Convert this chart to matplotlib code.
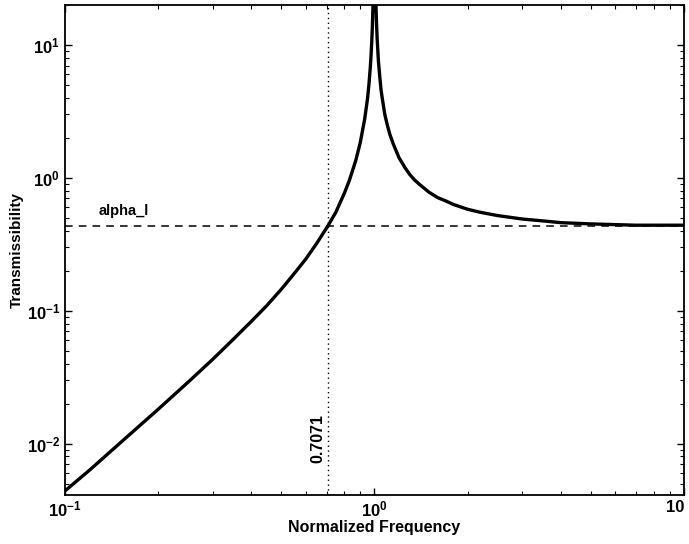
from matplotlib import pyplot as plt
import numpy as np

plt.rcParams['font.family'] = ['Liberation Sans', 'DejaVu Sans']
plt.rcParams['mathtext.default'] = 'regular'

# values
freq = [0.1, 0.12, 0.15, 0.2, 0.25, 0.3, 0.35, 0.4, 0.45, 0.5, 0.55, 0.6, 0.65,
        0.7071, 0.75, 0.8, 0.83, 0.85, 0.87, 0.9, 0.93, 0.95, 0.96, 0.97, 0.975,
        0.98, 0.985, 0.99, 0.995, 1.005, 1.01, 1.015, 1.02, 1.03, 1.04, 1.05,
        1.06, 1.08, 1.1, 1.12, 1.15, 1.2, 1.25, 1.3, 1.35, 1.4, 1.5, 1.6, 1.7,
        1.8, 2.0, 2.2, 2.5, 3.0, 3.5, 4.0, 5.0, 7.0, 10.0]
trans = [0.0044, 0.0063, 0.0100, 0.0181, 0.029, 0.043, 0.061, 0.083, 0.110,
         0.145, 0.19, 0.245, 0.32, 0.435, 0.55, 0.77, 0.96, 1.14, 1.35, 1.85,
         2.78, 3.98, 5.1, 6.9, 8.4, 10.6, 14.2, 21.4, 43.0, 43.0, 22.0, 14.8,
         11.2, 7.5, 5.8, 4.6, 3.95, 3.0, 2.5, 2.14, 1.8, 1.42, 1.21, 1.06, 0.96,
         0.89, 0.78, 0.71, 0.67, 0.63, 0.58, 0.55, 0.52, 0.49, 0.474, 0.46,
         0.45, 0.44, 0.44]
alpha_l = 0.435
r_cross = 0.7071

xticks = [0.1, 1, 10]
xticklabels = ['$10^{-1}$', '$10^{0}$', '10']
yticks = [0.01, 0.1, 1, 10]
yticklabels = ['$10^{-2}$', '$10^{-1}$', '$10^{0}$', '$10^{1}$']

fig = plt.figure(figsize=(6.89, 5.44), dpi=100)
ax = fig.add_axes([0.0943, 0.0901, 0.8984, 0.9007])

ax.plot(freq, trans, color='black', lw=2.4, solid_joinstyle='round')
ax.axhline(alpha_l, color='black', lw=1.1, ls=(0, (5, 4)))
ax.axvline(r_cross, color='black', lw=1.0, ls=(0, (1, 2.5)))

ax.set_xscale('log')
ax.set_yscale('log')
ax.set_xlim(0.1, 10)
ax.set_ylim(0.0041, 20)

ax.set_xticks(xticks)
ax.set_xticklabels(xticklabels, fontsize=12, fontweight='bold')
ax.get_xticklabels()[-1].set_ha('right')
ax.set_yticks(yticks)
ax.set_yticklabels(yticklabels, fontsize=12, fontweight='bold')
ax.tick_params(which='both', direction='in', top=True, right=True)
ax.tick_params(which='major', length=5, width=1)
ax.tick_params(which='minor', length=3, width=0.8)
for s in ax.spines.values():
    s.set_linewidth(1.3)

ax.text(0.128, 0.5, 'alpha_l', fontsize=10.5, fontweight='bold', va='bottom')
ax.text(0.655, 0.0109, '0.7071', fontsize=11.5, fontweight='bold', rotation=90,
        ha='center', va='center')

ax.set_xlabel('Normalized Frequency', fontsize=11.5, fontweight='bold', labelpad=0)
ax.set_ylabel('Transmissibility', fontsize=11, fontweight='bold', labelpad=2)

fig.savefig('out.png', dpi=100)
